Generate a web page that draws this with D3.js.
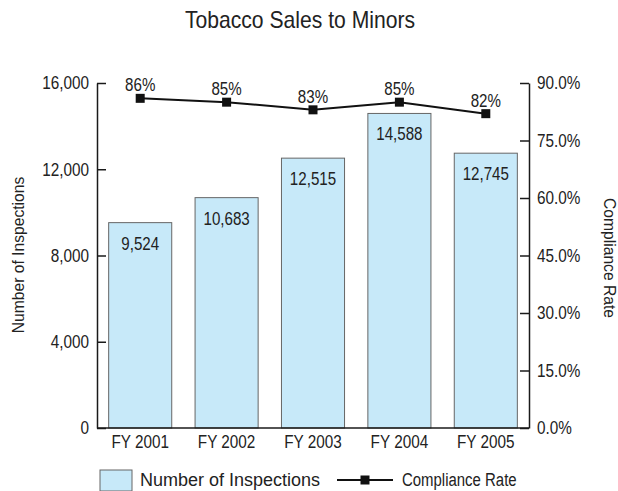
<!DOCTYPE html>
<html>
<head>
<meta charset="utf-8">
<script src="https://cdn.jsdelivr.net/npm/d3@7"></script>
<style>
  body { margin: 0; background: #fff; }
  svg text { font-family: "Liberation Sans", Arial, sans-serif; fill: #222; }
</style>
</head>
<body>
<div id="chart"></div>
<script>
// chart data
const years = ['FY 2001', 'FY 2002', 'FY 2003', 'FY 2004', 'FY 2005'];
const inspections = [9524, 10683, 12515, 14588, 12745];
const compliance = [86, 85, 83, 85, 82];
const leftTicks = [0, 4000, 8000, 12000, 16000];
const rightTicks = [0, 15, 30, 45, 60, 75, 90];

const W = 618, H = 491;
const plotL = 97, plotR = 529, plotT = 83, plotB = 428;

const svg = d3.select('#chart').append('svg')
    .attr('width', W)
    .attr('height', H);

// squeeze text horizontally to mimic the condensed face of the original
function condense(sel, k) {
    sel.each(function() {
        const w = this.getComputedTextLength();
        d3.select(this).attr('textLength', w * k).attr('lengthAdjust', 'spacingAndGlyphs');
    });
}

const x = d3.scaleBand()
    .domain(years)
    .range([plotL, plotR])
    .paddingInner(0.27)
    .paddingOuter(0.135);

const yL = d3.scaleLinear().domain([0, 16000]).range([plotB, plotT]);
const yR = d3.scaleLinear().domain([0, 90]).range([plotB, plotT]);

// title
svg.append('text')
    .attr('class', 'cond')
    .attr('x', 300).attr('y', 28)
    .attr('text-anchor', 'middle')
    .style('font-size', '24px')
    .text('Tobacco Sales to Minors')
    .call(condense, 0.88);

// bars
svg.append('g').selectAll('rect')
    .data(inspections)
    .join('rect')
    .attr('x', (d, i) => x(years[i]))
    .attr('y', d => yL(d))
    .attr('width', x.bandwidth())
    .attr('height', d => yL(0) - yL(d))
    .attr('fill', '#c7e9f9')
    .attr('stroke', '#666')
    .attr('stroke-width', 1);

svg.append('g').selectAll('text')
    .data(inspections)
    .join('text')
    .attr('x', (d, i) => x(years[i]) + x.bandwidth() / 2)
    .attr('y', d => yL(d) + 27)
    .attr('text-anchor', 'middle')
    .style('font-size', '18px')
    .text(d => d3.format(',')(d))
    .call(condense, 0.84);

// axes
const axisL = svg.append('g')
    .attr('transform', `translate(${plotL},0)`)
    .call(d3.axisLeft(yL).tickValues(leftTicks).tickFormat(d3.format(','))
        .tickSize(-9).tickSizeOuter(0).tickPadding(8));

const axisR = svg.append('g')
    .attr('transform', `translate(${plotR},0)`)
    .call(d3.axisRight(yR).tickValues(rightTicks).tickFormat(d => d.toFixed(1) + '%')
        .tickSize(-9).tickSizeOuter(0).tickPadding(8));

const axisB = svg.append('g')
    .attr('transform', `translate(0,${plotB})`)
    .call(d3.axisBottom(x).tickSize(0).tickSizeOuter(0).tickPadding(7));

[axisL, axisR, axisB].forEach(g => {
    g.selectAll('path, line').attr('stroke', '#1a1a1a').attr('stroke-width', 1.5);
    g.selectAll('text').style('font-size', '18px').attr('fill', '#222')
        .style('font-family', '"Liberation Sans", Arial, sans-serif')
        .call(condense, 0.85);
});
axisB.select('.domain').attr('d', `M${plotL},0H${plotR}`);

// axis titles
svg.append('text')
    .attr('transform', 'translate(24,255) rotate(-90)')
    .attr('text-anchor', 'middle')
    .style('font-size', '17px')
    .text('Number of Inspections')
    .call(condense, 0.92);

svg.append('text')
    .attr('transform', 'translate(604,258) rotate(90)')
    .attr('text-anchor', 'middle')
    .style('font-size', '17px')
    .text('Compliance Rate')
    .call(condense, 0.92);

// compliance line
const line = d3.line()
    .x((d, i) => x(years[i]) + x.bandwidth() / 2)
    .y(d => yR(d));

svg.append('path')
    .datum(compliance)
    .attr('d', line)
    .attr('fill', 'none')
    .attr('stroke', '#111')
    .attr('stroke-width', 2);

svg.append('g').selectAll('rect')
    .data(compliance)
    .join('rect')
    .attr('x', (d, i) => x(years[i]) + x.bandwidth() / 2 - 4.5)
    .attr('y', d => yR(d) - 4.5)
    .attr('width', 9).attr('height', 9)
    .attr('fill', '#111');

svg.append('g').selectAll('text')
    .data(compliance)
    .join('text')
    .attr('x', (d, i) => x(years[i]) + x.bandwidth() / 2)
    .attr('y', d => yR(d) - 7)
    .attr('text-anchor', 'middle')
    .style('font-size', '18px')
    .text(d => d + '%')
    .call(condense, 0.84);

// legend
const leg = svg.append('g').attr('transform', 'translate(0,480)');
leg.append('rect')
    .attr('x', 100).attr('y', -10)
    .attr('width', 32).attr('height', 21)
    .attr('fill', '#c7e9f9').attr('stroke', '#666');
leg.append('text')
    .attr('x', 140).attr('y', 6)
    .style('font-size', '18px')
    .text('Number of Inspections');
leg.append('line')
    .attr('x1', 337).attr('x2', 393).attr('y1', 0).attr('y2', 0)
    .attr('stroke', '#111').attr('stroke-width', 2);
leg.append('rect')
    .attr('x', 365 - 4.5).attr('y', -4.5)
    .attr('width', 9).attr('height', 9)
    .attr('fill', '#111');
leg.append('text')
    .attr('x', 402).attr('y', 6)
    .style('font-size', '18px')
    .text('Compliance Rate')
    .call(condense, 0.83);
</script>
</body>
</html>
